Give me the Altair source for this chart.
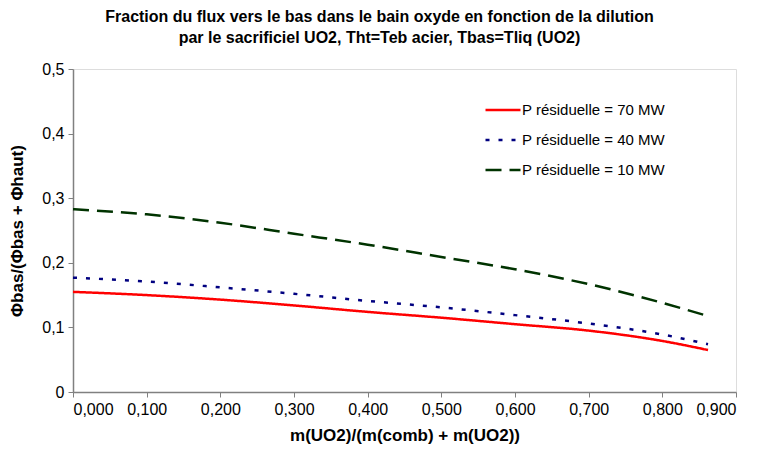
import altair as alt
import pandas as pd

x_vals = [0.0, 0.1, 0.2, 0.3, 0.4, 0.5, 0.6, 0.7, 0.8, 0.862]
p70 = [0.155, 0.150, 0.143, 0.134, 0.124, 0.115, 0.105, 0.095, 0.079, 0.065]
p40 = [0.177, 0.171, 0.162, 0.152, 0.141, 0.131, 0.119, 0.106, 0.089, 0.074]
p10 = [0.283, 0.275, 0.262, 0.245, 0.228, 0.209, 0.190, 0.167, 0.138, 0.1175]
series_names = ["P résiduelle = 70 MW", "P résiduelle = 40 MW", "P résiduelle = 10 MW"]
series_colors = ["#FF0000", "#000080", "#003300"]
series_dash = [[1, 0], [4, 9], [16, 8]]

rows = []
for name, vals in zip(series_names, [p70, p40, p10]):
    for xv, yv in zip(x_vals, vals):
        rows.append({"x": xv, "y": yv, "serie": name})
df = pd.DataFrame(rows)

FONT = "Liberation Sans"

chart = alt.Chart(df).mark_line(strokeWidth=2.5, interpolate="monotone").encode(
    x=alt.X("x:Q", scale=alt.Scale(domain=[0, 0.9], nice=False),
            axis=alt.Axis(values=[0, 0.1, 0.2, 0.3, 0.4, 0.5, 0.6, 0.7, 0.8, 0.9],
                          labelExpr="replace(format(datum.value, '.3f'), '.', ',')",
                          title="m(UO2)/(m(comb) + m(UO2))", grid=False,
                          tickSize=5, labelPadding=4, titlePadding=10,
                          labelFont=FONT, labelFontSize=16, labelColor="#000000",
                          titleFont=FONT, titleFontSize=17, titleFontWeight="bold",
                          titleColor="#000000", domainColor="#808080",
                          tickColor="#808080", domainWidth=1.5)),
    y=alt.Y("y:Q", scale=alt.Scale(domain=[0, 0.5], nice=False),
            axis=alt.Axis(values=[0, 0.1, 0.2, 0.3, 0.4, 0.5],
                          labelExpr="datum.value == 0 ? '0' : replace(format(datum.value, '.1f'), '.', ',')",
                          title="Φbas/(Φbas + Φhaut)", grid=False,
                          tickSize=5, labelPadding=4, titlePadding=15,
                          labelFont=FONT, labelFontSize=16, labelColor="#000000",
                          titleFont=FONT, titleFontSize=17, titleFontWeight="bold",
                          titleColor="#000000", domainColor="#808080",
                          tickColor="#808080", domainWidth=1.5)),
    color=alt.Color("serie:N", sort=series_names,
                    scale=alt.Scale(domain=series_names, range=series_colors),
                    legend=alt.Legend(title=None, orient="none", legendX=411, legendY=22,
                                      symbolType="stroke", symbolSize=1225,
                                      symbolStrokeWidth=2.5, labelFontSize=15,
                                      labelFont=FONT, labelColor="#000000",
                                      rowPadding=3, labelOffset=0)),
    strokeDash=alt.StrokeDash("serie:N", sort=series_names,
                              scale=alt.Scale(domain=series_names, range=series_dash),
                              legend=None),
).properties(
    width=663, height=323,
    autosize=alt.AutoSizeParams(type="none"),
    padding={"left": 65, "top": 61, "right": 14, "bottom": 55},
    title=alt.TitleParams(
        text=["Fraction du flux vers le bas dans le bain oxyde en fonction de la dilution",
              "par le sacrificiel UO2, Tht=Teb acier, Tbas=Tliq (UO2)"],
        font=FONT, fontSize=16, fontWeight="bold", anchor="middle", frame="group",
        dx=-25, offset=15, lineHeight=21, color="#000000"),
).configure_view(
    stroke="#A0A0A0", strokeWidth=1.5,
).configure(background="white")

chart.save("out.html", embed_options={"renderer": "svg", "actions": False})
